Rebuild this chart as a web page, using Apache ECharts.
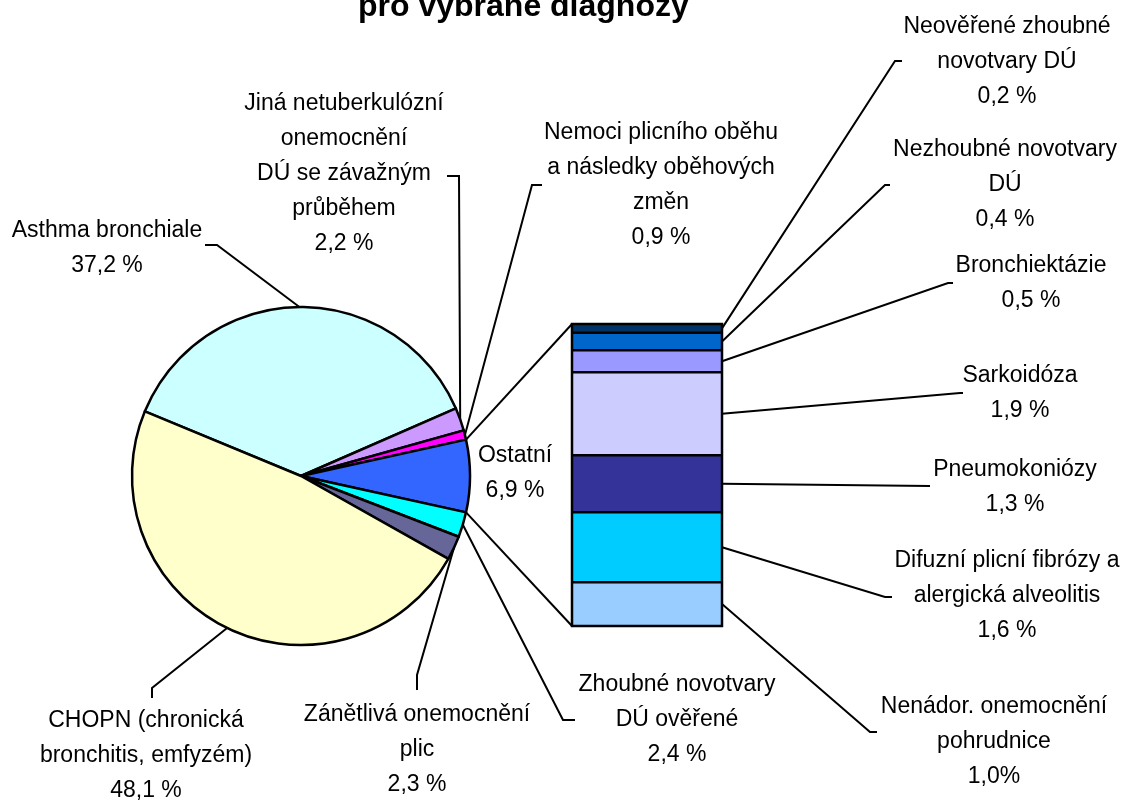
<!DOCTYPE html>
<html><head><meta charset="utf-8">
<script src="https://cdn.jsdelivr.net/npm/echarts@6/dist/echarts.min.js"></script>
<style>html,body{margin:0;padding:0;background:#fff}#c{width:1124px;height:801px}</style>
</head><body><div id="c"></div>
<script>
// ---------------- data ----------------
const titleText = 'pro vybrané diagnózy';

const pieCategories = [
  'Asthma bronchiale',
  'Jiná netuberkulózní\nonemocnění\nDÚ se závažným\nprůběhem',
  'Nemoci plicního oběhu\na následky oběhových\nzměn',
  'Ostatní',
  'Zhoubné novotvary\nDÚ ověřené',
  'Zánětlivá onemocnění\nplic',
  'CHOPN (chronická\nbronchitis, emfyzém)'
];
const pieValues = [37.2, 2.2, 0.9, 6.9, 2.4, 2.3, 48.1];
const pieColors = ['#CCFFFF', '#CC99FF', '#FF00FF', '#3366FF', '#00FFFF', '#666699', '#FFFFCC'];
const otherIndex = 3;

const barCategories = [
  'Neověřené zhoubné\nnovotvary DÚ',
  'Nezhoubné novotvary\nDÚ',
  'Bronchiektázie',
  'Sarkoidóza',
  'Pneumokoniózy',
  'Difuzní plicní fibrózy a\nalergická alveolitis',
  'Nenádor. onemocnění\npohrudnice'
];
const barValues = [0.2, 0.4, 0.5, 1.9, 1.3, 1.6, 1.0];
const barColors = ['#003366', '#0066CC', '#9999FF', '#CCCCFF', '#333399', '#00CCFF', '#99CCFF'];
const barPctSep = [' ', ' ', ' ', ' ', ' ', ' ', ''];

// ---------------- layout ----------------
const FONT = "'Liberation Sans', Arial, sans-serif";
const FS = 23, LH = 35;
const PIE_C = [301, 476], PIE_R = 169;
const BAR = { left: 572, top: 324, width: 150, height: 302 };

// label anchors: [centerX, topY], leader elbow and stub end
const pieLabelPos = [
  { x: 107, y: 213, elbow: [217, 245], stub: [205, 245] },
  { x: 344, y: 86,  elbow: [459, 176], stub: [447, 176] },
  { x: 661, y: 115, elbow: [532, 185], stub: [542, 185] },
  { x: 515, y: 438 },
  { x: 677, y: 667, elbow: [563, 720], stub: [575, 720] },
  { x: 417, y: 697, elbow: [417, 675], stub: [417, 690] },
  { x: 146, y: 703, elbow: [152, 688], stub: [152, 698] }
];
const barLabelPos = [
  { x: 1007, y: 9,   elbow: [895, 61],  stub: [902, 61] },
  { x: 1005, y: 132, elbow: [885, 185], stub: [890, 185] },
  { x: 1031, y: 248, elbow: [948, 283], stub: [953, 283] },
  { x: 1020, y: 358, elbow: [960, 393], stub: [963, 393] },
  { x: 1015, y: 452, elbow: [930, 486], stub: [930, 486] },
  { x: 1007, y: 543, elbow: [885, 597], stub: [892, 597] },
  { x: 994,  y: 689, elbow: [870, 732], stub: [877, 732] }
];

function pct(v, sep) { return v.toFixed(1).replace('.', ',') + (sep == null ? ' ' : sep) + '%'; }

const pieTotal = pieValues.reduce((a, b) => a + b, 0);
const barTotal = barValues.reduce((a, b) => a + b, 0);
let before = 0;
for (let i = 0; i < otherIndex; i++) before += pieValues[i];
const startAngle = (before + pieValues[otherIndex] / 2) / pieTotal * 360;

function angleAt(cumValue) { return startAngle - cumValue / pieTotal * 360; }
function edgePoint(deg) {
  const r = deg * Math.PI / 180;
  return [PIE_C[0] + PIE_R * Math.cos(r), PIE_C[1] - PIE_R * Math.sin(r)];
}
const pieMid = [];
{ let c = 0; pieValues.forEach(v => { pieMid.push(angleAt(c + v / 2)); c += v; }); }

const chart = echarts.init(document.getElementById('c'), null, { renderer: 'canvas' });

const labelBase = { show: true, color: '#000', fontFamily: FONT, fontSize: FS, lineHeight: LH, width: 420, overflow: 'none' };

const series = [{
  type: 'pie',
  center: PIE_C,
  radius: PIE_R,
  startAngle: startAngle,
  clockwise: true,
  avoidLabelOverlap: false,
  emphasis: { disabled: true },
  itemStyle: { borderColor: '#000', borderWidth: 2.5 },
  label: Object.assign({}, labelBase, {
    position: 'outside', align: 'center',
    formatter: p => pieCategories[p.dataIndex] + '\n' + pct(pieValues[p.dataIndex])
  }),
  labelLine: { show: true, smooth: false, lineStyle: { color: '#000', width: 2 } },
  labelLayout: function (p) {
    const L = pieLabelPos[p.dataIndex];
    const o = { x: L.x, y: L.y, align: 'center', verticalAlign: 'top' };
    if (L.elbow) o.labelLinePoints = [edgePoint(pieMid[p.dataIndex]), L.elbow, L.stub];
    return o;
  },
  data: pieCategories.map((n, i) => {
    const d = { name: n.replace(/\n/g, ' '), value: pieValues[i], itemStyle: { color: pieColors[i] } };
    if (i === otherIndex) d.labelLine = { show: false };
    return d;
  })
}];

barValues.forEach((v, i) => {
  series.push({
    type: 'bar',
    name: barCategories[i].replace(/\n/g, ' '),
    stack: 'ostatni',
    barWidth: '100%',
    data: [v],
    emphasis: { disabled: true },
    itemStyle: { color: barColors[i], borderWidth: 0 },
    label: Object.assign({}, labelBase, {
      position: 'right', align: 'center',
      formatter: () => barCategories[i] + '\n' + pct(v, barPctSep[i])
    }),
    labelLayout: () => ({ x: barLabelPos[i].x, y: barLabelPos[i].y, align: 'center', verticalAlign: 'top' })
  });
});

chart.setOption({
  animation: false,
  backgroundColor: '#fff',
  title: {
    text: titleText, left: 358, top: -9, padding: 0,
    textStyle: { fontFamily: FONT, fontWeight: 'bold', fontSize: 32, lineHeight: 32, color: '#000' }
  },
  grid: { left: BAR.left, top: BAR.top, width: BAR.width, height: BAR.height, containLabel: false },
  xAxis: { type: 'category', data: ['Ostatní'], show: false },
  yAxis: { type: 'value', min: 0, max: barTotal, inverse: true, show: false },
  series: series
});

// segment outlines, leader lines and connectors, computed from the axes
const g = [];
const stroke = (w) => ({ stroke: '#000', lineWidth: w, fill: null });
let cum = 0;
const xRight = BAR.left + BAR.width;
barValues.forEach((v, i) => {
  const ym = chart.convertToPixel({ yAxisIndex: 0 }, cum + v / 2);
  cum += v;
  if (i < barValues.length - 1) {
    const yb = chart.convertToPixel({ yAxisIndex: 0 }, cum);
    g.push({ type: 'line', z: 100, shape: { x1: BAR.left, y1: yb, x2: xRight, y2: yb }, style: stroke(2.5) });
  }
  const L = barLabelPos[i];
  g.push({ type: 'polyline', z: 100, shape: { points: [[xRight, ym], L.elbow, L.stub] }, style: stroke(2) });
});
const yTop = chart.convertToPixel({ yAxisIndex: 0 }, 0);
const yBot = chart.convertToPixel({ yAxisIndex: 0 }, barTotal);
const otherStart = angleAt(before);
const otherEnd = angleAt(before + pieValues[otherIndex]);
g.push({ type: 'rect', z: 100, shape: { x: BAR.left, y: yTop, width: BAR.width, height: yBot - yTop }, style: stroke(2.5) });
g.push({ type: 'polyline', z: 100, shape: { points: [edgePoint(otherStart), [BAR.left, yTop]] }, style: stroke(2) });
g.push({ type: 'polyline', z: 100, shape: { points: [edgePoint(otherEnd), [BAR.left, yBot]] }, style: stroke(2) });
chart.setOption({ graphic: g });
</script>
</body></html>
